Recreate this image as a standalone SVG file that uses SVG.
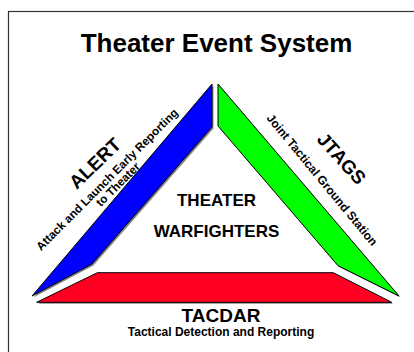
<svg xmlns="http://www.w3.org/2000/svg" width="414" height="352" viewBox="0 0 414 352">
<style>
text{font-family:"Liberation Sans",Arial,sans-serif;font-weight:bold;fill:#000;text-anchor:middle}
text.s{text-anchor:start}
.side{stroke:#000;stroke-width:1;stroke-linejoin:miter}
.shadow{fill:#888;stroke:none}
</style>
<rect x="8.5" y="11.5" width="420" height="360" fill="#fff" stroke="#333" stroke-width="1.2"/>
<text id="title" x="216.5" y="52" font-size="26">Theater Event System</text>
<g id="alert">
<polygon class="shadow" points="213.5,85.5 213.5,128.5 93.5,265.5 33.5,297.5"/>
<polygon class="side" fill="#0000ff" points="212,84 212,127 92,264 32,296"/>
<text class="s" font-size="19" transform="translate(76.7,190) rotate(-44)">ALERT</text>
<text class="s" font-size="11.7" transform="translate(41,251.2) rotate(-45)">Attack and Launch Early Reporting</text>
<text class="s" font-size="11.7" transform="translate(100.8,207.3) rotate(-45)">to Theater</text>
</g>
<g id="jtags">
<polygon class="shadow" points="219.5,85.5 219.5,127.5 339.5,267.2 400.5,297.5"/>
<polygon class="side" fill="#00ff00" points="218,84 218,126 338,265.7 399,296"/>
<text class="s" font-size="19" transform="translate(316,140) rotate(48)">JTAGS</text>
<text class="s" font-size="12" transform="translate(266,118.3) rotate(50.5)">Joint Tactical Ground Station</text>
</g>
<g id="tacdar">
<polygon class="shadow" points="98.8,274.2 334.8,274.2 393.2,303.8 38.2,303.8"/>
<polygon class="side" fill="#ff0022" points="97.3,272.7 333.3,272.7 391.7,302.3 36.7,302.3"/>
<text x="221" y="321.5" font-size="19">TACDAR</text>
<text x="221" y="336" font-size="12">Tactical Detection and Reporting</text>
</g>
<g id="warfighters">
<text x="216.5" y="206" font-size="17">THEATER</text>
<text x="216.5" y="237" font-size="17">WARFIGHTERS</text>
</g>
<g id="connectors"></g>
</svg>
